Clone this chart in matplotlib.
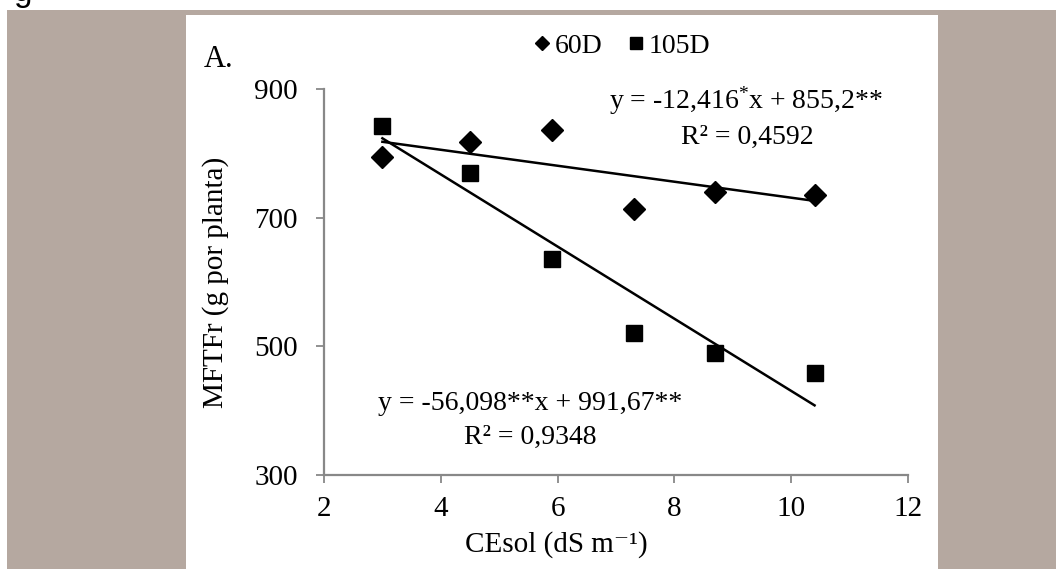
import matplotlib
matplotlib.use('Agg')
import matplotlib.pyplot as plt
from matplotlib.patches import Rectangle
from matplotlib.lines import Line2D

# dados
ce_sol = [3.0, 4.5, 5.9, 7.3, 8.7, 10.4]
mftfr_60d = [794, 818, 837, 714, 740, 736]
mftfr_105d = [842, 769, 635, 520, 490, 459]

# coeficientes das equações mostradas
coef_60d = (-12.416, 855.2)
coef_105d = (-56.098, 991.67)

eq_60d = "y = -12,416$^{\\mathregular{*}}$x + 855,2**"
r2_60d = "R² = 0,4592"
eq_105d = "y = -56,098**x + 991,67**"
r2_105d = "R² = 0,9348"

x_ticks = [2, 4, 6, 8, 10, 12]
y_ticks = [300, 500, 700, 900]

W, H = 1056, 569
plt.rcParams['font.family'] = ['Liberation Serif', 'DejaVu Serif']
plt.rcParams['mathtext.fontset'] = 'custom'
plt.rcParams['mathtext.rm'] = 'Liberation Serif'
plt.rcParams['mathtext.it'] = 'Liberation Serif'


def fx(x):
    return x / W


def fy(y):
    return 1 - y / H


fig = plt.figure(figsize=(W / 100, H / 100), dpi=100)
fig.patch.set_facecolor('white')

# fundo da página
fig.patches.append(Rectangle((fx(7), 0), 1 - fx(7), fy(10), transform=fig.transFigure,
                             facecolor='#b5a8a0', edgecolor='none', zorder=-10))
fig.patches.append(Rectangle((fx(186), 0), fx(938) - fx(186), fy(15), transform=fig.transFigure,
                             facecolor='white', edgecolor='none', zorder=-9))
fig.text(fx(14), fy(1), 'g', fontsize=24, family='Liberation Sans', va='baseline', ha='left')

ax = fig.add_axes([fx(324), fy(475), fx(908) - fx(324), fy(89) - fy(475)])
ax.set_facecolor('none')

ax.plot(ce_sol, mftfr_60d, 'D', color='black', ms=11, zorder=3)
ax.plot(ce_sol, mftfr_105d, 's', color='black', ms=11.5, zorder=3)

xs = [min(ce_sol), max(ce_sol)]
ax.plot(xs, [coef_60d[0] * x + coef_60d[1] for x in xs], color='black', lw=1.8, zorder=2)
ax.plot(xs, [coef_105d[0] * x + coef_105d[1] for x in xs], color='black', lw=1.8, zorder=2)

ax.set_xlim(2, 12)
ax.set_ylim(300, 900)
ax.set_xticks(x_ticks)
ax.set_yticks(y_ticks)
ax.tick_params(axis='both', labelsize=21, length=6, width=1.3, color='#888888')
ax.tick_params(axis='x', pad=9)
ax.tick_params(axis='y', pad=13)

for s in ['top', 'right']:
    ax.spines[s].set_visible(False)
for s in ['left', 'bottom']:
    ax.spines[s].set_color('#888888')
    ax.spines[s].set_linewidth(1.6)

fig.text(fx(556), fy(545), 'CEsol (dS m⁻¹)', fontsize=21, ha='center', va='center')
fig.text(fx(216), fy(282), 'MFTFr (g por planta)', fontsize=21, ha='center', va='center', rotation=90)
fig.text(fx(204), fy(67), 'A.', fontsize=22, ha='left', va='baseline')

# equações
fig.text(fx(746), fy(101), eq_60d, fontsize=20, ha='center', va='center')
fig.text(fx(747), fy(137), r2_60d, fontsize=20, ha='center', va='center')
fig.text(fx(530), fy(404), eq_105d, fontsize=20, ha='center', va='center')
fig.text(fx(530), fy(437), r2_105d, fontsize=20, ha='center', va='center')

handles = [Line2D([], [], marker='D', ls='none', color='black', ms=7),
           Line2D([], [], marker='s', ls='none', color='black', ms=8)]
fig.legend(handles, ['60D', '105D'], loc='center', bbox_to_anchor=(fx(622), fy(46)),
           ncol=2, frameon=False, fontsize=20, handlelength=0.6, handletextpad=0.15,
           columnspacing=0.9, borderpad=0)

fig.savefig('out.png', dpi=100)
